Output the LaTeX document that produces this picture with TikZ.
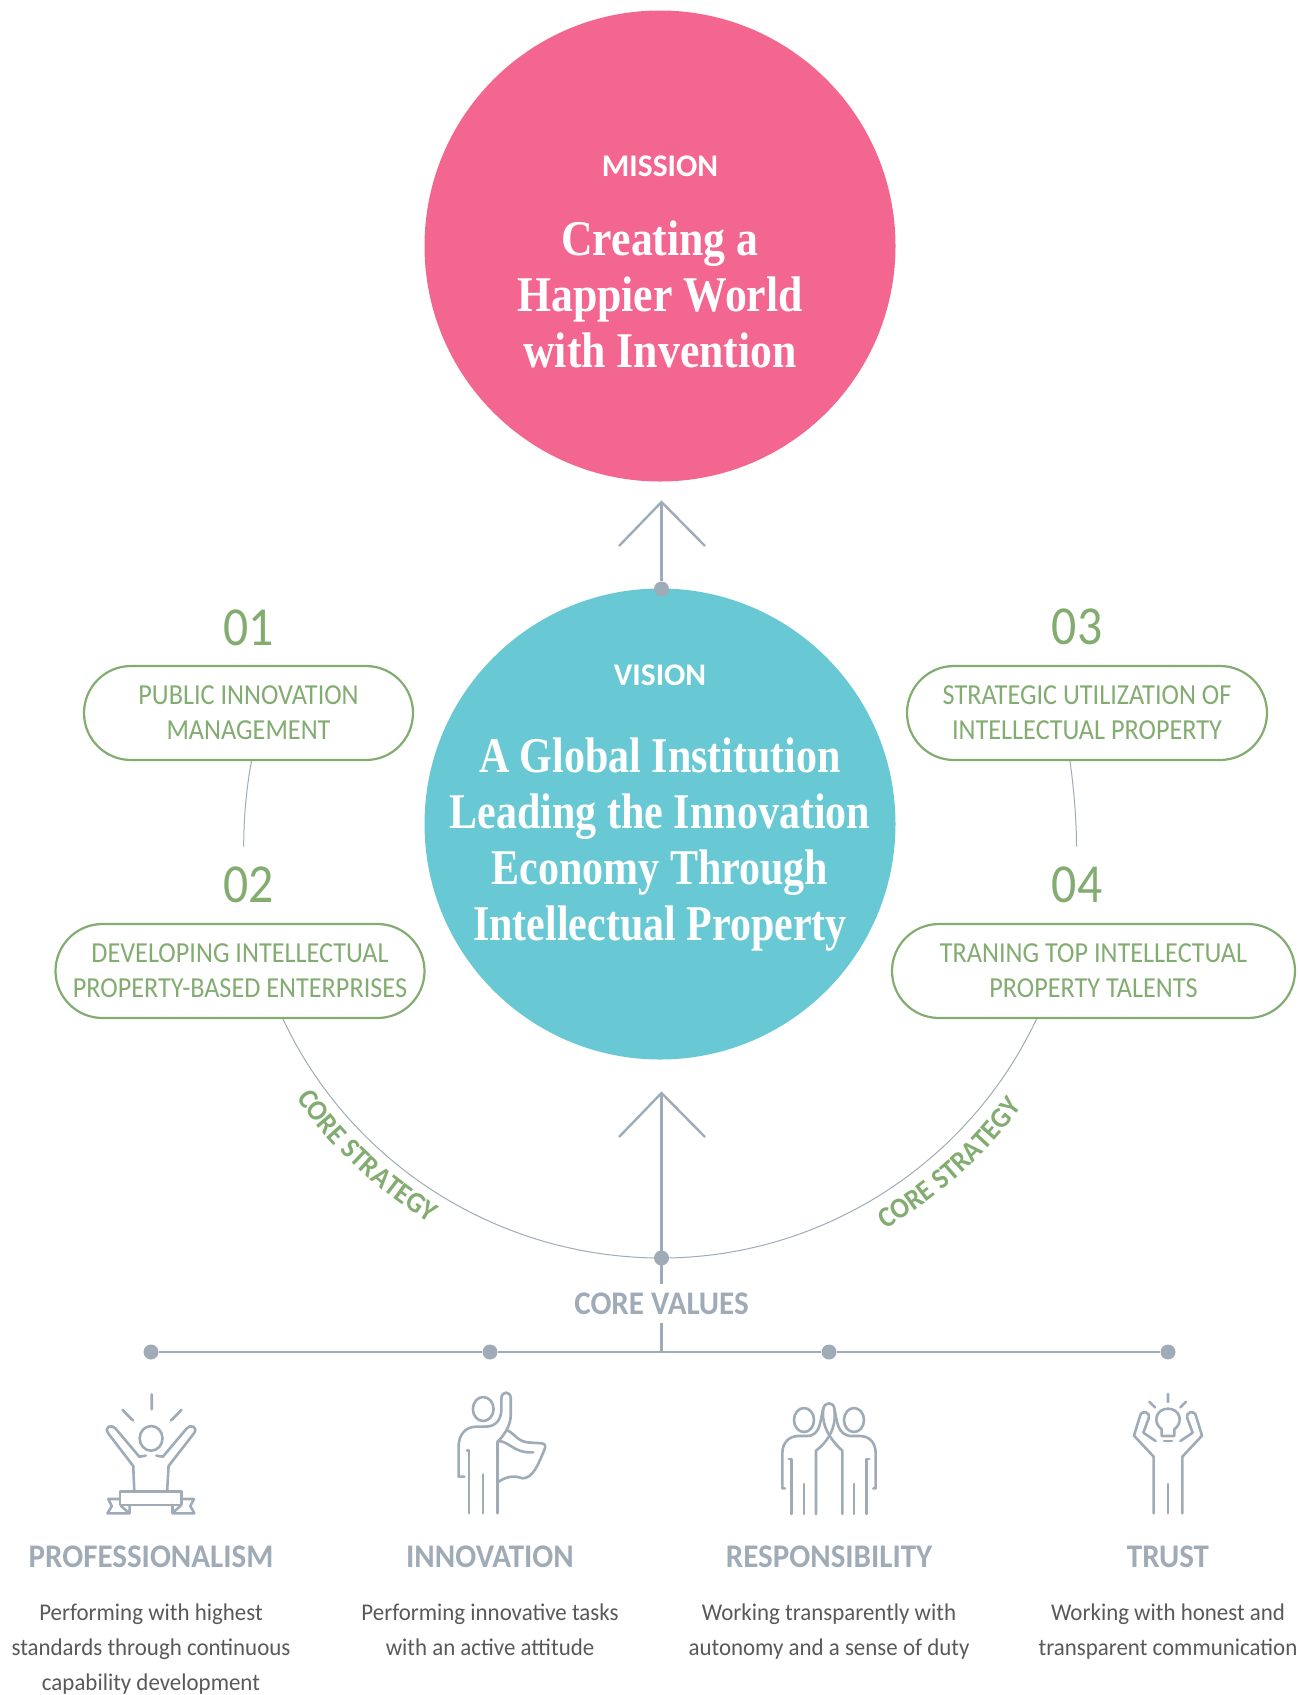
\documentclass[tikz,border=0pt]{standalone}
\usepackage{fontspec}
\usetikzlibrary{calc, positioning, decorations.text}
\setmainfont{Carlito}[FakeStretch=0.905]
\newfontfamily\labfont{Carlito}
\newfontfamily\titlefont{Carlito}[FakeStretch=0.94]
\newfontfamily\descfont{Carlito}[FakeStretch=0.955]
\newfontfamily\headfont{Liberation Serif Bold}[FakeStretch=0.875]
\newfontfamily\visfont{Liberation Serif Bold}[FakeStretch=0.84]
\definecolor{missionpink}{RGB}{243, 102, 143}
\definecolor{visionteal}{RGB}{104, 201, 212}
\definecolor{stratgreen}{RGB}{131, 172, 113}
\definecolor{valgray}{RGB}{160, 171, 184}
\tikzset{
  stratbox/.style={draw=stratgreen, line width=2.2pt, fill=white, rounded corners=47pt, align=center,
    text=stratgreen, font=\fontsize{29}{35}\selectfont, inner sep=0pt},
  stratnum/.style={text=stratgreen, font=\fontsize{55}{55}\selectfont, inner sep=0pt},
  bigcircle/.style={circle, minimum size=471pt, inner sep=0pt, text=white, align=center},
  headline/.style={text=white, font=\fontsize{50}{56}\selectfont\headfont, align=center, inner sep=0pt},
  visline/.style={text=white, font=\fontsize{50}{56}\selectfont\visfont, align=center, inner sep=0pt},
  capline/.style={text=white, font=\fontsize{31.5}{31.5}\selectfont\labfont\bfseries, inner sep=0pt},
  valdot/.style={circle, fill=valgray, minimum size=15pt, inner sep=0pt},
  valline/.style={valgray, line width=2.4pt},
  thinline/.style={valgray, line width=1pt},
  valtitle/.style={text=valgray, font=\fontsize{33}{33}\selectfont\titlefont\bfseries, inner sep=0pt},
  valtext/.style={text=black!65, font=\fontsize{24}{35}\selectfont\descfont, align=center, anchor=north, inner sep=0pt},
  icon/.style={valgray, line width=2.6pt, line cap=round, line join=round}
}
\begin{document}
\begin{tikzpicture}[x=1pt, y=-1pt]
  \useasboundingbox (0, 0) rectangle (1298, 1695);

  % Circles
  \node[bigcircle, fill=missionpink] (mission) at (660, 246) {};
  \node[bigcircle, fill=visionteal] (vision) at (660, 824) {};
  \node[capline] (missionlab) at (660, 166) {MISSION};
  \node[headline] (missiontxt) at (660, 294.5) {Creating a\\Happier World\\with Invention};
  \node[capline] (visionlab) at (660, 675) {VISION};
  \node[visline] (visiontxt) at (660, 845) {A Global Institution\\Leading the Innovation\\Economy Through\\Intellectual Property};

  % Arrow to mission
  \coordinate (tipa) at (661.5, 502);
  \coordinate (winga) at (619, 546);
  \coordinate (wingb) at (705, 546);
  \node[valdot] (dota) at (661.5, 589) {};
  \draw[valline] (dota) -- (tipa);
  \draw[valline] (winga) -- (tipa) -- (wingb);

  % Strategy boxes
  \node[stratbox, minimum width=329pt, minimum height=94pt] (pub) at (248.5, 713) {PUBLIC INNOVATION\\MANAGEMENT};
  \node[stratbox, minimum width=369pt, minimum height=94pt] (dev) at (240, 971) {DEVELOPING INTELLECTUAL\\PROPERTY-BASED ENTERPRISES};
  \node[stratbox, minimum width=360pt, minimum height=94pt] (uti) at (1087, 713) {STRATEGIC UTILIZATION OF\\INTELLECTUAL PROPERTY};
  \node[stratbox, minimum width=403pt, minimum height=94pt] (tal) at (1093.5, 971) {TRANING TOP INTELLECTUAL\\PROPERTY TALENTS};
  \node[stratnum] (numa) at (248.5, 628) {01};
  \node[stratnum] (numb) at (248.5, 885) {02};
  \node[stratnum] (numc) at (1077, 627) {03};
  \node[stratnum] (numd) at (1077, 885) {04};

  % Thin links between boxes
  \coordinate (enda) at (243.7, 846.7);
  \coordinate (endb) at (1076.5, 846.7);
  \draw[thinline] ([xshift=3pt]pub.south) .. controls (246, 790) and (243.7, 820) .. (enda);
  \draw[thinline] ([xshift=-17pt]uti.south) .. controls (1074, 790) and (1076.5, 820) .. (endb);

  % Core strategy arc
  \node[valdot] (dotb) at (661.5, 1258) {};
  \draw[thinline] ([xshift=43pt]dev.south) .. controls (351.4, 1164.5) and (498.3, 1258) .. (dotb.center);
  \draw[thinline] ([xshift=-57pt]tal.south) .. controls (968, 1164.5) and (821, 1258) .. (dotb.center);

  \coordinate (arccen) at (660, 842);
  \path[decorate, decoration={text along path, text align=center,
      text={|\fontsize{29}{29}\selectfont\titlefont\bfseries\color{stratgreen}|CORE STRATEGY}}]
    ($(arccen)+(202:445pt)$) arc[start angle=202, end angle=252, radius=445pt];
  \path[decorate, decoration={text along path, text align=center,
      text={|\fontsize{29}{29}\selectfont\titlefont\bfseries\color{stratgreen}|CORE STRATEGY}}]
    ($(arccen)+(287:448pt)$) arc[start angle=287, end angle=337, radius=448pt];

  % Core values
  \coordinate (tipb) at (661.5, 1093);
  \coordinate (wingc) at (619, 1137);
  \coordinate (wingd) at (705, 1137);
  \coordinate (stema) at (661.5, 1284);
  \coordinate (stemb) at (661.5, 1323);
  \coordinate (stemc) at (661.5, 1352);
  \draw[valline] (stema) -- (tipb);
  \draw[valline] (wingc) -- (tipb) -- (wingd);
  \draw[valline] (stemb) -- (stemc);
  \node[valtitle] (corelab) at (661.5, 1304) {CORE VALUES};

  \node[valdot] (vala) at (151, 1352) {};
  \node[valdot] (valb) at (490, 1352) {};
  \node[valdot] (valc) at (829, 1352) {};
  \node[valdot] (vald) at (1168, 1352) {};
  \draw[valline] (vala) -- (valb) -- (valc) -- (vald);

  % Value columns
  \foreach \n/\x/\t/\d in {a/151/PROFESSIONALISM/{Performing with highest\\standards through continuous\\capability development},
      b/490/INNOVATION/{Performing innovative tasks\\with an active attitude},
      c/829/RESPONSIBILITY/{Working transparently with\\autonomy and a sense of duty},
      d/1168/TRUST/{Working with honest and\\transparent communication}} {
    \node[valtitle] (title\n) at (\x, 1557) {\t};
    \node[valtext] (desc\n) at (\x, 1604) {\d};
  }

  % Icons, traced on a finer grid
  \begin{scope}[shift={(60, 1340)}, x=0.35714pt, y=-0.33333pt, icon]
    % Raised arms over a banner
    \draw (257,163) -- (257,208) (175,210) -- (204,241) (340,210) -- (311,241);
    \draw (255,295) ellipse [x radius=32, y radius=37];
    \draw (240,347) -- (222,350) -- (155,265) .. controls (145,252) and (122,260) .. (135,280) -- (205,378) -- (208,452);
    \draw (270,347) -- (288,350) -- (355,265) .. controls (365,252) and (388,260) .. (375,280) -- (304,378) -- (300,452);
    \draw (168,455) rectangle (340,495);
    \draw (168,477) -- (135,477) -- (145,498) -- (133,520) -- (195,520) -- (195,495) (170,497) -- (190,516);
    \draw (340,477) -- (375,477) -- (365,498) -- (376,520) -- (315,520) -- (315,495) (338,497) -- (318,516);
    % Figure with a flag
    \draw (1185,207) ellipse [x radius=29, y radius=36];
    \draw (1132,410) -- (1116,410) -- (1116,320) .. controls (1116,285) and (1135,260) .. (1165,260) -- (1190,260)
      .. controls (1220,260) and (1236,240) .. (1236,205) -- (1236,175) .. controls (1236,152) and (1262,152) .. (1262,175)
      -- (1262,225) .. controls (1262,255) and (1245,285) .. (1225,305) -- (1225,520);
    \draw (1140,332) -- (1145,332) -- (1145,520) (1184,403) -- (1184,520);
    \draw (1250,270) .. controls (1275,280) and (1280,308) .. (1320,308) -- (1350,310) .. controls (1360,312) and (1360,320) .. (1356,330)
      .. controls (1340,370) and (1325,415) .. (1295,415) .. controls (1270,405) and (1250,410) .. (1228,425);
    \draw (1228,303) .. controls (1260,305) and (1270,340) .. (1325,337);
  \end{scope}
  \begin{scope}[shift={(740, 1340)}, x=0.33333pt, y=-0.33333pt, icon]
    % Two figures high five
    \draw (192,240) ellipse [x radius=30, y radius=36];
    \draw (342,240) ellipse [x radius=30, y radius=36];
    \draw (135,445) -- (127,445) -- (127,340) .. controls (127,305) and (150,288) .. (175,288) -- (200,288)
      .. controls (245,288) and (240,235) .. (250,205) .. controls (255,185) and (280,185) .. (283,205)
      .. controls (288,240) and (282,290) .. (228,332) -- (228,522);
    \draw (400,445) -- (407,445) -- (407,340) .. controls (407,305) and (385,288) .. (360,288) -- (335,288)
      .. controls (290,288) and (290,235) .. (283,205);
    \draw (250,205) .. controls (245,240) and (255,285) .. (307,332) -- (307,522);
    \draw (146,357) -- (155,357) -- (155,522) (192,432) -- (192,522) (342,432) -- (342,522) (379,522) -- (379,357) -- (388,357);
    % Figure with a light bulb
    \draw (1284,162) -- (1284,186) (1228,185) -- (1245,202) (1338,185) -- (1321,202);
    \draw (1265,268) .. controls (1235,245) and (1250,206) .. (1284,206) .. controls (1318,206) and (1333,245) .. (1303,268) -- (1303,288) -- (1265,288) -- cycle;
    \draw (1272,303) -- (1296,303);
    \draw (1247,303) -- (1210,278) -- (1226,235) .. controls (1232,215) and (1205,208) .. (1200,228) -- (1182,287) -- (1241,350) -- (1241,520);
    \draw (1321,303) -- (1358,278) -- (1342,235) .. controls (1336,215) and (1363,208) .. (1368,228) -- (1386,287) -- (1327,350) -- (1327,520);
    \draw (1284,432) -- (1284,520);
  \end{scope}
\end{tikzpicture}
\end{document}
